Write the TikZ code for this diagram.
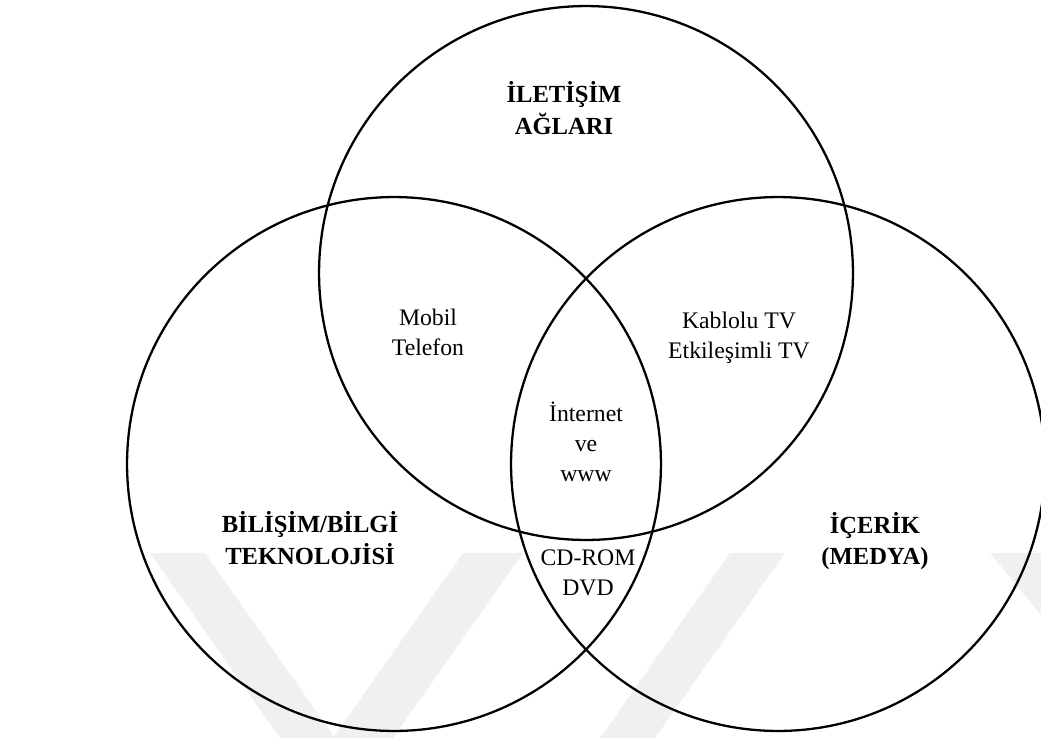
\documentclass[tikz,border=0pt]{standalone}
\usepackage{fontspec}
\setmainfont{Liberation Serif}

\tikzset{
  ring/.style={line width=1.3pt},
  wmark/.style={fill=black!6},
  lbl/.style={font=\fontsize{13.5}{17}\selectfont, align=center, inner sep=0pt},
  head/.style={font=\fontsize{14}{18}\selectfont\bfseries, align=center, inner sep=0pt},
}

\begin{document}
\begin{tikzpicture}[x=0.02cm,y=-0.02cm]
        \useasboundingbox (0,0) rectangle (1041,738);
        \fill[wmark] (150,553) -- (205,553) -- (335,738) -- (280,738) -- cycle;
        \fill[wmark] (463,553) -- (523,553) -- (393,738) -- (333,738) -- cycle;
        \fill[wmark] (730,553) -- (785,553) -- (655,738) -- (600,738) -- cycle;
        \fill[wmark] (990,553) -- (1045,553) -- (1045,620) -- cycle;
        \coordinate (cT) at (586,273);
        \coordinate (cL) at (394,464);
        \coordinate (cR) at (778,464);
        \draw[ring] (cT) circle[radius=5.34cm];
        \draw[ring] (cL) circle[radius=5.34cm];
        \draw[ring] (cR) circle[radius=5.34cm];
        \node[head] (iletisim) at (564,108) {İLETİŞİM\\AĞLARI};
        \node[head] (bilisim) at (310,538) {BİLİŞİM/BİLGİ\\TEKNOLOJİSİ};
        \node[head] (icerik) at (875,541) {İÇERİK\\(MEDYA)};
        \node[lbl] (mobil) at (428,332) {Mobil\\Telefon};
        \node[lbl] (kablo) at (739,338) {Kablolu TV\\Etkileşimli TV};
        \node[lbl] (inet) at (586,442) {İnternet\\ve\\www};
        \node[lbl] (cdrom) at (588,573) {CD-ROM\\DVD};
    \end{tikzpicture}
\end{document}
